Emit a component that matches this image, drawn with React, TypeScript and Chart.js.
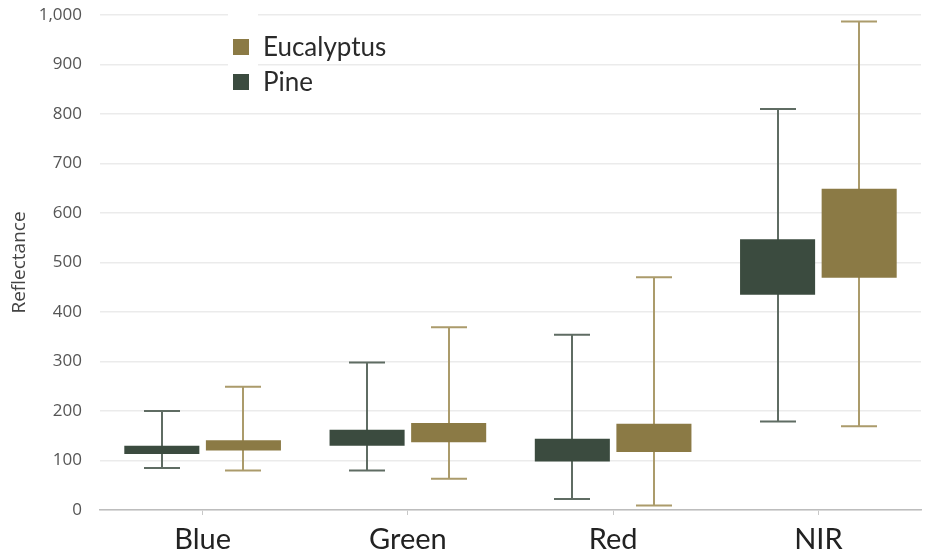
import React, { useEffect, useRef } from "react";
import { Chart, registerables } from "chart.js";

Chart.register(...registerables);

const categories = ["Blue", "Green", "Red", "NIR"];
// Pine: min, q1, q3, max
const pineMin = [85, 80, 22, 179];
const pineQ1 = [113, 130, 98, 435];
const pineQ3 = [130, 162, 144, 547];
const pineMax = [200, 298, 354, 810];
// Eucalyptus
const eucMin = [80, 63, 9, 169];
const eucQ1 = [120, 137, 117, 469];
const eucQ3 = [141, 176, 174, 649];
const eucMax = [249, 369, 470, 987];

const yTicks = [0, 100, 200, 300, 400, 500, 600, 700, 800, 900, 1000];

const PINE = "#3b4b3f";
const EUC = "#8b7a45";
const PINE_WHISK = "#5f6c63";
const EUC_WHISK = "#ab9b6b";

const whiskerPlugin = {
  id: "whiskers",
  beforeDatasetsDraw(chart: any) {
    const ctx = chart.ctx;
    const y = chart.scales.y;
    const sets = [
      { idx: 0, mins: pineMin, maxs: pineMax, color: PINE_WHISK },
      { idx: 1, mins: eucMin, maxs: eucMax, color: EUC_WHISK },
    ];
    ctx.save();
    ctx.lineWidth = 2;
    sets.forEach((s) => {
      const meta = chart.getDatasetMeta(s.idx);
      meta.data.forEach((el: any, j: number) => {
        const x = Math.round(el.x);
        const yMin = y.getPixelForValue(s.mins[j]);
        const yMax = y.getPixelForValue(s.maxs[j]);
        const half = 18;
        ctx.strokeStyle = s.color;
        ctx.beginPath();
        ctx.moveTo(x, yMin);
        ctx.lineTo(x, yMax);
        ctx.moveTo(x - half, yMin);
        ctx.lineTo(x + half, yMin);
        ctx.moveTo(x - half, yMax);
        ctx.lineTo(x + half, yMax);
        ctx.stroke();
      });
    });
    ctx.restore();
  },
};

const legendPlugin = {
  id: "customLegend",
  afterDraw(chart: any) {
    const ctx = chart.ctx;
    ctx.save();
    ctx.fillStyle = "#ffffff";
    ctx.fillRect(228, 4, 30, 92);
    const items = [
      { label: "Eucalyptus", color: EUC, y: 47 },
      { label: "Pine", color: PINE, y: 82 },
    ];
    ctx.font = "26px Lato";
    ctx.textBaseline = "middle";
    items.forEach((it) => {
      ctx.fillStyle = it.color;
      ctx.fillRect(233, it.y - 8, 16, 16);
      ctx.fillStyle = "#2a2a2a";
      ctx.fillText(it.label, 263, it.y + 1);
    });
    ctx.restore();
  },
};

export default function App() {
  const ref = useRef<HTMLCanvasElement | null>(null);
  useEffect(() => {
    document.body.style.margin = "0";
    const canvas = ref.current!;
    const chart = new Chart(canvas, {
      type: "bar",
      data: {
        labels: categories,
        datasets: [
          {
            label: "Pine",
            data: pineQ1.map((v, i) => [v, pineQ3[i]]),
            backgroundColor: PINE,
            borderWidth: 0,
          },
          {
            label: "Eucalyptus",
            data: eucQ1.map((v, i) => [v, eucQ3[i]]),
            backgroundColor: EUC,
            borderWidth: 0,
          },
        ],
      },
      options: {
        animation: false,
        responsive: false,
        maintainAspectRatio: false,
        layout: { padding: { top: 15, right: 4, left: 8, bottom: 0 } },
        datasets: { bar: { categoryPercentage: 0.795, barPercentage: 0.92 } },
        plugins: {
          legend: { display: false },
          tooltip: { enabled: false },
        },
        scales: {
          x: {
            offset: true,
            grid: {
              offset: false,
              drawOnChartArea: false,
              drawTicks: true,
              tickLength: 5,
              color: "#c8c8c8",
            },
            border: { color: "#bdbdbd", width: 1.5 },
            ticks: {
              font: { family: "Lato", size: 29 },
              color: "#222",
              padding: 7,
            },
            afterFit: (s: any) => {
              s.height = 50;
            },
          },
          y: {
            min: 0,
            max: 1000,
            afterBuildTicks: (s: any) => {
              s.ticks = yTicks.map((v) => ({ value: v }));
            },
            grid: { color: "#ebebeb", lineWidth: 1.5, drawTicks: false },
            border: { display: false },
            ticks: {
              font: { family: "'Open Sans'", size: 17 },
              color: "#555",
              padding: 18,
              callback: (v: any) => Number(v).toLocaleString("en-US"),
            },
            title: {
              display: true,
              text: "Reflectance",
              font: { family: "'Open Sans'", size: 19 },
              color: "#444",
              padding: { top: 0, bottom: 4 },
            },
            afterFit: (s: any) => {
              s.width = 92;
              s.paddingTop = 0;
              s.paddingBottom = 0;
            },
          },
        },
      },
      plugins: [whiskerPlugin, legendPlugin],
    });
    return () => chart.destroy();
  }, []);
  return (
    <div style={{ width: 925, height: 560 }}>
      <canvas ref={ref} width={925} height={560} style={{ display: "block" }} />
    </div>
  );
}
